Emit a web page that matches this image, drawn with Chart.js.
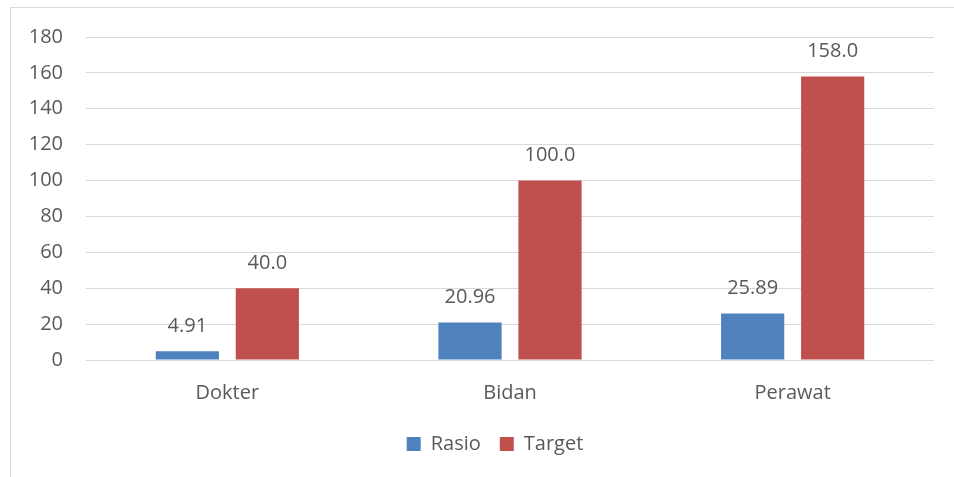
<!DOCTYPE html>
<html>
<head>
<meta charset="utf-8">
<script src="https://cdn.jsdelivr.net/npm/chart.js@4/dist/chart.umd.min.js"></script>
<style>
    html, body { margin: 0; padding: 0; background: #fff; overflow: hidden; }
    #wrap { position: relative; width: 954px; height: 477px; }
    #frame {
        position: absolute; left: 10px; top: 7px;
        width: 1000px; height: 520px;
        border: 1px solid #d9d9d9; box-sizing: border-box;
    }
    #chart { position: absolute; left: 0; top: 0; }
</style>
</head>
<body>
<div id="wrap">
    <div id="frame"></div>
    <canvas id="chart" width="954" height="477"></canvas>
</div>
<script>
// Categories and series
const categories = ['Dokter', 'Bidan', 'Perawat'];
const rasioValues = [4.91, 20.96, 25.89];
const targetValues = [40.0, 100.0, 158.0];
const seriesDecimals = [2, 1];

const textColor = '#595959';
const gridColor = '#d9d9d9';
const fontFamily = "'Open Sans', sans-serif";

// Value labels above each bar
const valueLabels = {
    id: 'valueLabels',
    afterDatasetsDraw(chart) {
        const ctx = chart.ctx;
        ctx.save();
        ctx.fillStyle = textColor;
        ctx.font = `20px ${fontFamily}`;
        ctx.textAlign = 'center';
        ctx.textBaseline = 'middle';
        chart.data.datasets.forEach((ds, i) => {
            const meta = chart.getDatasetMeta(i);
            meta.data.forEach((bar, j) => {
                ctx.fillText(ds.data[j].toFixed(seriesDecimals[i]), bar.x, bar.y - 25);
            });
        });
        ctx.restore();
    }
};

// Nudge the legend so it sits a little right of the canvas centre
const legendShift = {
    id: 'legendShift',
    afterLayout(chart) {
        if (!chart.legend) return;
        chart.legend.left += 18;
        chart.legend.right += 18;
    }
};

Chart.defaults.font.family = fontFamily;
Chart.defaults.font.size = 20;
Chart.defaults.color = textColor;

new Chart(document.getElementById('chart'), {
    type: 'bar',
    data: {
        labels: categories,
        datasets: [
            {
                label: 'Rasio',
                data: rasioValues,
                backgroundColor: '#4f81bd',
                categoryPercentage: 0.566,
                barPercentage: 0.79
            },
            {
                label: 'Target',
                data: targetValues,
                backgroundColor: '#c0504d',
                categoryPercentage: 0.566,
                barPercentage: 0.79
            }
        ]
    },
    options: {
        responsive: false,
        animation: false,
        layout: {
            padding: { left: 20, right: 20, top: 37, bottom: 13 }
        },
        scales: {
            x: {
                grid: { display: false },
                border: { display: false },
                ticks: { padding: 13, color: textColor },
                afterFit(scale) { scale.height = 55; }
            },
            y: {
                min: 0,
                max: 180,
                grid: { color: gridColor, lineWidth: 1, drawTicks: false },
                border: { display: false },
                ticks: { stepSize: 20, padding: 23, color: textColor },
                afterFit(scale) { scale.width = 66; }
            }
        },
        plugins: {
            legend: {
                position: 'bottom',
                labels: {
                    boxWidth: 14,
                    boxHeight: 14,
                    padding: 19,
                    color: textColor
                }
            },
            tooltip: { enabled: false }
        }
    },
    plugins: [valueLabels, legendShift]
});
</script>
</body>
</html>
